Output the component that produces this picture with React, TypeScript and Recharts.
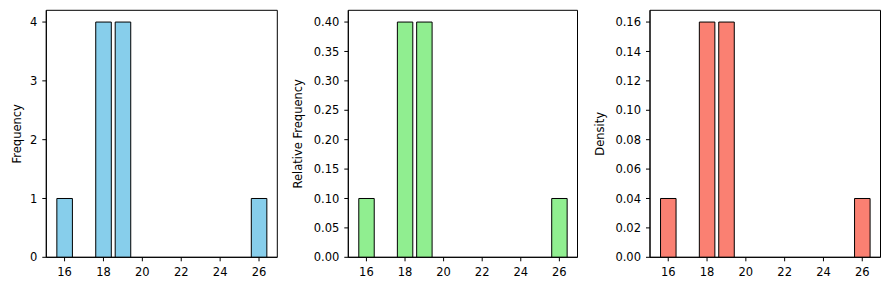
import { Bar, BarChart, CartesianGrid, XAxis, YAxis } from 'recharts';

// ages seen in the sample and how often each one appears
const ages = [16, 18, 19, 26];
const counts = [1, 4, 4, 1];
const relFreq = [0.1, 0.4, 0.4, 0.1];
const density = [0.04, 0.16, 0.16, 0.04];

const xTicks = [16, 18, 20, 22, 24, 26];
const countTicks = [0, 1, 2, 3, 4];
const relTicks = [0, 0.05, 0.1, 0.15, 0.2, 0.25, 0.3, 0.35, 0.4];
const densTicks = [0, 0.02, 0.04, 0.06, 0.08, 0.1, 0.12, 0.14, 0.16];

const X_DOMAIN: [number, number] = [15.06, 26.94];
const BAR_WIDTH = 0.8; // in data units
const H = 290;
const FONT = 'DejaVu Sans, sans-serif';
const FS = 11.5;

type PanelProps = {
  left: number;
  width: number;
  plotLeft: number;
  plotRight: number;
  values: number[];
  yTicks: number[];
  yMax: number;
  yLabel: string;
  labelX: number; // page x of the y label centre
  color: string;
  digits: number;
};

// box around the plot area, like matplotlib spines
const boxRows = ({ offset }: any) => [offset.top, offset.top + offset.height];
const boxCols = ({ offset }: any) => [offset.left, offset.left + offset.width];

const Panel = ({ left, width, plotLeft, plotRight, values, yTicks, yMax, yLabel, labelX, color, digits }: PanelProps) => {
  const data = ages.map((a, i) => ({ age: a, v: values[i] }));
  const yAxisW = 40;
  const mLeft = plotLeft - left - yAxisW;
  const mRight = left + width - plotRight;
  const pxPerUnit = (plotRight - plotLeft) / (X_DOMAIN[1] - X_DOMAIN[0]);
  const labelDx = labelX - (left + mLeft + yAxisW / 2);
  const tickStyle = { fill: '#000', fontSize: FS, fontFamily: FONT };
  return (
    <div style={{ position: 'absolute', left, top: 0 }}>
      <BarChart width={width} height={H} data={data} margin={{ top: 10.3, right: mRight, bottom: 12.7, left: mLeft }}>
        <CartesianGrid stroke="#000" strokeWidth={1} horizontalCoordinatesGenerator={boxRows} verticalCoordinatesGenerator={boxCols} />
        <XAxis
          dataKey="age"
          type="number"
          domain={X_DOMAIN}
          ticks={xTicks}
          allowDataOverflow
          tickSize={4}
          tickMargin={7}
          height={20}
          tick={tickStyle}
          tickLine={{ stroke: '#000' }}
          axisLine={{ stroke: '#000' }}
        />
        <YAxis
          type="number"
          domain={[0, yMax]}
          ticks={yTicks}
          allowDataOverflow
          width={yAxisW}
          tickSize={4}
          tickMargin={5}
          tick={tickStyle}
          tickLine={{ stroke: '#000' }}
          axisLine={{ stroke: '#000' }}
          tickFormatter={(v: number) => v.toFixed(digits)}
          label={{ value: yLabel, angle: -90, position: 'center', dx: labelDx, style: { fill: '#000', fontSize: FS, fontFamily: FONT } }}
        />
        <Bar dataKey="v" fill={color} stroke="#000" strokeWidth={1} barSize={BAR_WIDTH * pxPerUnit} isAnimationActive={false} />
      </BarChart>
    </div>
  );
};

export default function App() {
  return (
    <div style={{ position: 'absolute', left: 0, top: 0, width: 889, height: H, background: '#fff' }}>
      <Panel left={0} width={289} plotLeft={46.3} plotRight={277.3} values={counts} yTicks={countTicks} yMax={4.2} yLabel="Frequency" labelX={17.2} color="#87CEEB" digits={0} />
      <Panel left={289} width={297} plotLeft={348.3} plotRight={577.5} values={relFreq} yTicks={relTicks} yMax={0.42} yLabel="Relative Frequency" labelX={298.3} color="#90EE90" digits={2} />
      <Panel left={586} width={303} plotLeft={650} plotRight={880.5} values={density} yTicks={densTicks} yMax={0.168} yLabel="Density" labelX={600.4} color="#FA8072" digits={2} />
    </div>
  );
}
